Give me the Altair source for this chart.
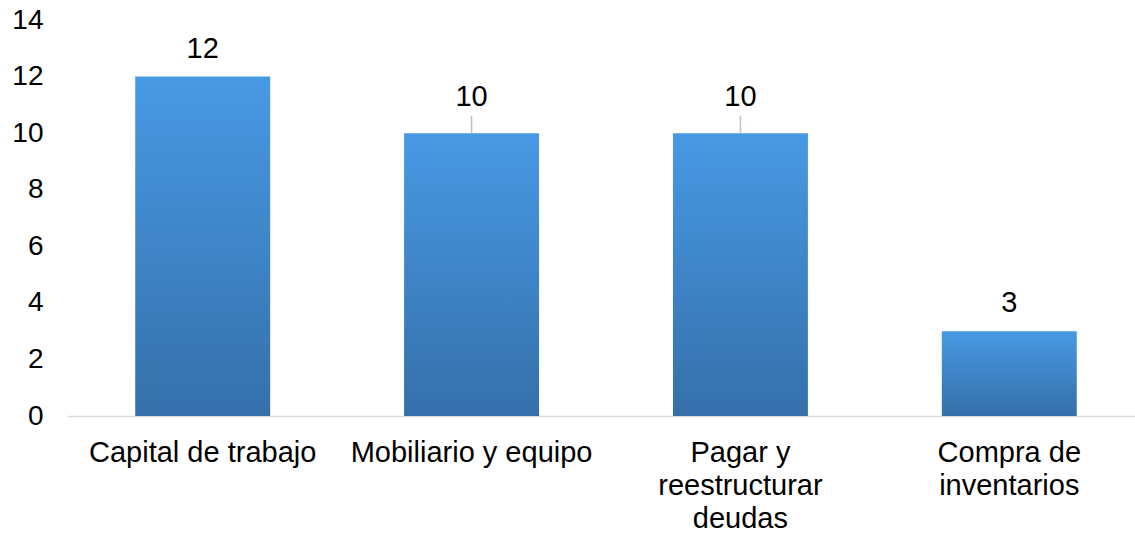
import altair as alt
import pandas as pd

categories = ["Capital de trabajo", "Mobiliario y equipo", "Pagar y reestructurar deudas", "Compra de inventarios"]
values = [12, 10, 10, 3]
leader_line = [False, True, True, False]

df = pd.DataFrame({"cat": categories, "val": values, "leader": leader_line})

label_expr = ("datum.value == 'Pagar y reestructurar deudas' ? ['Pagar y', 'reestructurar', 'deudas'] : "
              "datum.value == 'Compra de inventarios' ? ['Compra de', 'inventarios'] : datum.value")

FONT = "Liberation Sans"

x = alt.X("cat:N", sort=categories, title=None,
          scale=alt.Scale(range=[0, 1076], paddingInner=0.498, paddingOuter=0.25),
          axis=alt.Axis(labelAngle=0, labelFont=FONT, labelFontSize=29, labelColor="#000000",
                        labelLimit=400, labelExpr=label_expr, labelLineHeight=33,
                        labelPadding=22, ticks=False, domainColor="#d9d9d9", domainWidth=1.5))
y = alt.Y("val:Q", title=None,
          scale=alt.Scale(domain=[0, 14], nice=False),
          axis=alt.Axis(values=list(range(0, 15, 2)), grid=False, domain=False, ticks=False,
                        labelFont=FONT, labelFontSize=28, labelColor="#000000", labelPadding=25))

base = alt.Chart(df)

bars = base.mark_bar(
    color=alt.Gradient(gradient="linear", x1=0, x2=0, y1=0, y2=1,
                       stops=[alt.GradientStop(color="#4899e4", offset=0),
                              alt.GradientStop(color="#3570aa", offset=1)])
).encode(x=x, y=y)

leaders = base.transform_filter("datum.leader").transform_calculate(top="datum.val + 0.62").mark_rule(
    color="#b8c4d4", strokeWidth=1.5
).encode(x=alt.X("cat:N", sort=categories), y="val:Q", y2="top:Q")

labels_plain = base.transform_filter("!datum.leader").mark_text(
    font=FONT, fontSize=29, color="#000000", baseline="alphabetic", dy=-19).encode(
    x=alt.X("cat:N", sort=categories), y="val:Q", text="val:Q"
)
labels_leader = base.transform_filter("datum.leader").mark_text(
    font=FONT, fontSize=29, color="#000000", baseline="alphabetic", dy=-27).encode(
    x=alt.X("cat:N", sort=categories), y="val:Q", text="val:Q"
)

chart = alt.layer(bars, leaders, labels_plain, labels_leader).properties(
    width=1067, height=396,
    autosize=alt.AutoSizeParams(type="none"),
    padding={"left": 68, "top": 20, "right": 0, "bottom": 117},
).configure(background="#ffffff").configure_view(stroke=None)

chart.save("out.html", embed_options={"renderer": "svg", "actions": False})
